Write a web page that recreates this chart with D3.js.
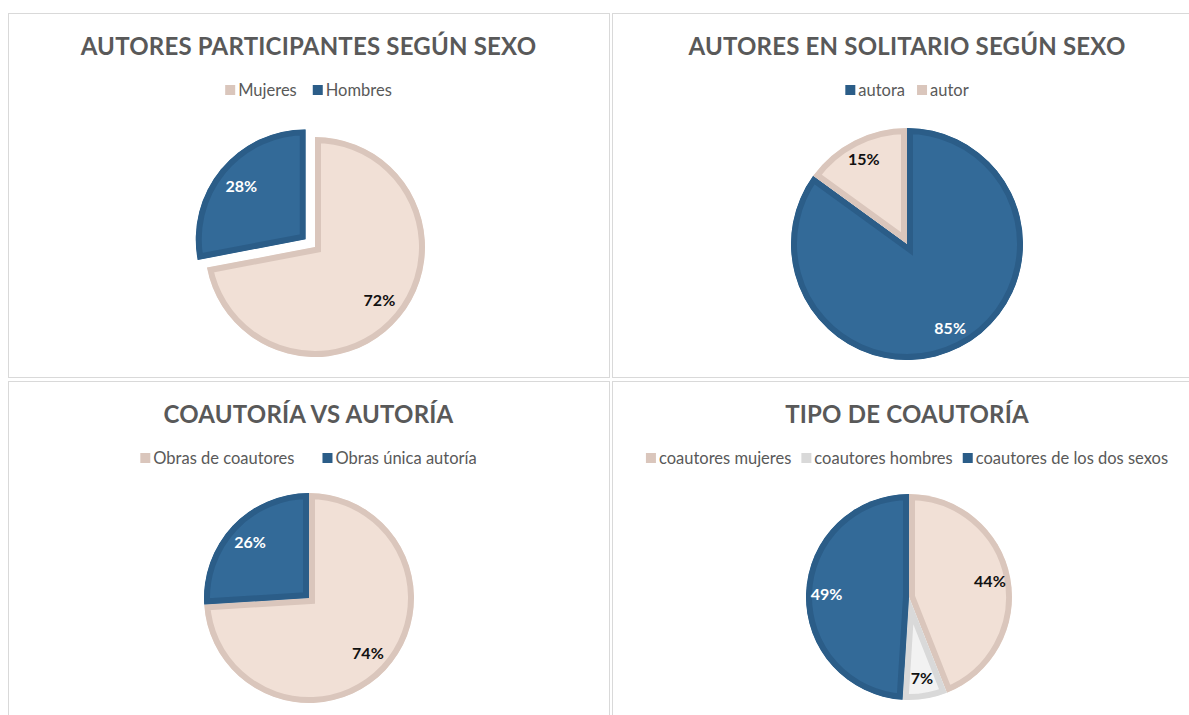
<!DOCTYPE html>
<html>
<head>
<meta charset="utf-8">
<script src="https://cdn.jsdelivr.net/npm/d3@7"></script>
<style>
  body { margin: 0; background: #fff; }
  text { font-family: Lato, "Open Sans", sans-serif; }
</style>
</head>
<body>
<svg id="chart" width="1189" height="715"></svg>
<script>
// data
var titles = ["AUTORES PARTICIPANTES SEGÚN SEXO", "AUTORES EN SOLITARIO SEGÚN SEXO",
              "COAUTORÍA VS AUTORÍA", "TIPO DE COAUTORÍA"];
var sexoLabels = ["Mujeres", "Hombres"];
var sexoValues = [72, 28];
var solitarioLabels = ["autora", "autor"];
var solitarioValues = [85, 15];
var autoriaLabels = ["Obras de coautores", "Obras única autoría"];
var autoriaValues = [74, 26];
var tipoLabels = ["coautores mujeres", "coautores hombres", "coautores de los dos sexos"];
var tipoValues = [44, 7, 49];

var beige = {fill: "#f1e0d6", line: "#dac6bc", text: "#111"},
    blue  = {fill: "#336a98", line: "#2b5d88", text: "#fff"},
    grey  = {fill: "#f2f2f2", line: "#d9d9d9", text: "#111"};

var panels = [
  {title: titles[0], labels: sexoLabels, values: sexoValues, colors: [beige, blue],
   box: [8, 13, 601, 364], cx: 315, cy: 247, r: 110, k: 0.76, gap: 16, explode: [0, 12]},
  {title: titles[1], labels: solitarioLabels, values: solitarioValues, colors: [blue, beige],
   box: [612, 13, 590, 364], cx: 907, cy: 244, r: 116, k: 0.82, gap: 12, explode: [0, 0]},
  {title: titles[2], labels: autoriaLabels, values: autoriaValues, colors: [beige, blue],
   box: [8, 381, 601, 350], cx: 309, cy: 598, r: 105, k: 0.77, gap: 28, explode: [0, 0]},
  {title: titles[3], labels: tipoLabels, values: tipoValues, colors: [beige, grey, blue],
   box: [612, 381, 590, 350], cx: 909, cy: 597, r: 103, k: 0.8, gap: 10, explode: [0, 0, 0]}
];

var svg = d3.select("#chart");
var pie = d3.pie().sort(null).value(d => d);
var bw = 6; // inner border width of each slice

panels.forEach(function (p, pi) {
  var midX = p.box[0] + p.box[2] / 2;
  if (pi % 2 == 1) midX = 907;
  svg.append("rect")
    .attr("x", p.box[0] + 0.5).attr("y", p.box[1] + 0.5)
    .attr("width", p.box[2]).attr("height", p.box[3])
    .attr("fill", "#fff").attr("stroke", "#d9d9d9");

  // title
  svg.append("text")
    .attr("x", midX).attr("y", p.box[1] + 42)
    .attr("text-anchor", "middle")
    .attr("font-size", 24).attr("font-weight", "bold")
    .attr("letter-spacing", 0.2)
    .attr("fill", "#595959")
    .text(p.title);

  // legend
  var leg = svg.append("g");
  var xpos = 0;
  p.labels.forEach(function (lab, i) {
    leg.append("rect").attr("x", xpos).attr("y", -5).attr("width", 10).attr("height", 10)
      .attr("fill", p.colors[i].line);
    var t = leg.append("text").attr("x", xpos + 13).attr("y", 6)
      .attr("font-size", 16.5).attr("fill", "#595959").text(lab);
    xpos += 13 + t.node().getComputedTextLength() + p.gap;
  });
  xpos -= p.gap;
  leg.attr("transform", "translate(" + (midX - xpos / 2) + "," + (p.box[1] + 77) + ")");

  // pie
  var arcs = pie(p.values);
  var arc = d3.arc().innerRadius(0).outerRadius(p.r);
  var g = svg.append("g").attr("transform", "translate(" + p.cx + "," + p.cy + ")");
  arcs.forEach(function (a, i) {
    var mid = (a.startAngle + a.endAngle) / 2;
    var off = p.explode[i];
    var dx = off * Math.sin(mid), dy = -off * Math.cos(mid);
    var id = "clip" + pi + "_" + i;
    var sg = g.append("g").attr("transform", "translate(" + dx + "," + dy + ")");
    sg.append("clipPath").attr("id", id)
      .append("path").attr("d", arc(a));
    sg.append("path")
      .attr("d", arc(a))
      .attr("clip-path", "url(#" + id + ")")
      .attr("fill", p.colors[i].fill)
      .attr("stroke", p.colors[i].line)
      .attr("stroke-width", bw * 2)
      .attr("stroke-linejoin", "miter");
    var lr = p.r * p.k;
    sg.append("text")
      .attr("x", lr * Math.sin(mid))
      .attr("y", -lr * Math.cos(mid) + 5.5)
      .attr("text-anchor", "middle")
      .attr("font-size", 16).attr("font-weight", "bold")
      .attr("fill", p.colors[i].text)
      .text(d3.format(".0%")(a.data / 100));
  });
});
</script>
</body>
</html>
